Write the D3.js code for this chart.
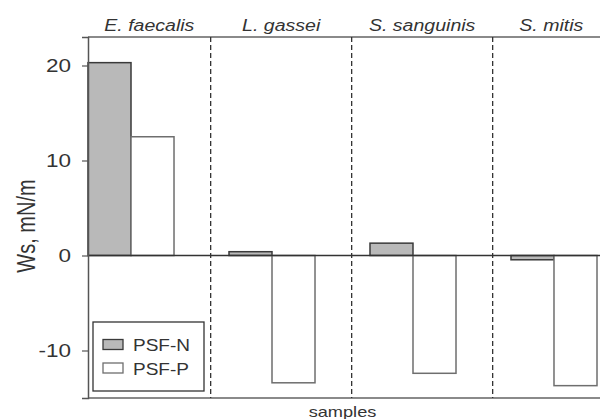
<!DOCTYPE html>
<html>
<head>
<meta charset="utf-8">
<script src="https://cdn.jsdelivr.net/npm/d3@7"></script>
<style>
  body { margin: 0; background: #fff; }
  svg text { font-family: "Liberation Sans", Arial, sans-serif; fill: #333; }
</style>
</head>
<body>
<svg id="chart" width="600" height="419"></svg>
<script>
// data
var groups = ["E. faecalis", "L. gassei", "S. sanguinis", "S. mitis"];
var series = ["PSF-N", "PSF-P"];
var psfN = [20.3, 0.4, 1.3, -0.45];
var psfP = [12.5, -13.4, -12.4, -13.7];
var yTicks = [-10, 0, 10, 20];

var margin = {left: 88, top: 37, right: 610, bottom: 398};
var svg = d3.select("#chart");

var x = d3.scaleBand().domain(groups).range([88, 597]).paddingInner(0.39).paddingOuter(0).align(0);
var xs = d3.scaleBand().domain(series).range([0, x.bandwidth()]).padding(0);
var y = d3.scaleLinear().domain([-15, 23]).range([margin.bottom, margin.top]);
var color = {"PSF-N": "#b9b9b9", "PSF-P": "#ffffff"};
var stroke = {"PSF-N": "#3a3a3a", "PSF-P": "#6e6e6e"};

var rows = [];
groups.forEach(function(g, i) {
    rows.push({g: g, s: "PSF-N", v: psfN[i]});
    rows.push({g: g, s: "PSF-P", v: psfP[i]});
});

// frame lines
svg.append("line").attr("x1", margin.left).attr("x2", margin.right).attr("y1", margin.top).attr("y2", margin.top)
    .attr("stroke", "#8a8a8a").attr("stroke-width", 2);
svg.append("line").attr("x1", margin.left).attr("x2", margin.right).attr("y1", margin.bottom).attr("y2", margin.bottom)
    .attr("stroke", "#8a8a8a").attr("stroke-width", 2);

// group dividers
var dividers = [];
for (var i = 1; i < groups.length; i++) dividers.push(x(groups[i]) - x.step() * 0.13);
svg.selectAll(".div").data(dividers).enter().append("line")
    .attr("x1", function(d) { return d; }).attr("x2", function(d) { return d; })
    .attr("y1", margin.top).attr("y2", margin.bottom)
    .attr("stroke", "#333").attr("stroke-width", 1.3).attr("stroke-dasharray", "5,3");

// bars
svg.selectAll(".bar").data(rows).enter().append("rect")
    .attr("x", function(d) { return x(d.g) + xs(d.s); })
    .attr("y", function(d) { return y(Math.max(0, d.v)); })
    .attr("width", xs.bandwidth())
    .attr("height", function(d) { return Math.abs(y(d.v) - y(0)); })
    .attr("fill", function(d) { return color[d.s]; })
    .attr("stroke", function(d) { return stroke[d.s]; })
    .attr("stroke-width", 1.5);

// zero line
svg.append("line").attr("x1", margin.left).attr("x2", margin.right).attr("y1", y(0)).attr("y2", y(0))
    .attr("stroke", "#333").attr("stroke-width", 1.5);

// y axis
var yAxis = d3.axisLeft(y).tickValues(yTicks).tickSize(6).tickFormat(function(d) { return String(d); });
var ga = svg.append("g").attr("transform", "translate(" + margin.left + ",0)").call(yAxis);
ga.select(".domain").attr("stroke", "#555").attr("stroke-width", 1.5);
ga.selectAll(".tick line").attr("stroke", "#555").attr("stroke-width", 1.2);
ga.selectAll(".tick text").attr("x", null).attr("dy", "0.35em")
    .attr("transform", "translate(-17,0) scale(1.25,1)")
    .style("font-size", "18px").attr("fill", "#333")
    .style("font-family", "Liberation Sans, Arial, sans-serif");

// group labels
var edges = [margin.left].concat(dividers).concat([margin.right]);
svg.selectAll(".glab").data(groups).enter().append("text")
    .attr("transform", function(d, i) { return "translate(" + ((edges[i] + edges[i + 1]) / 2) + ",31) scale(1.15,1)"; })
    .attr("text-anchor", "middle").style("font-size", "17px").style("font-style", "italic")
    .text(function(d) { return d; });

// axis titles
svg.append("text").attr("transform", "translate(35,226) rotate(-90) scale(1,1.25)")
    .attr("text-anchor", "middle").style("font-size", "20px").text("Ws, mN/m");
var xr = x.range();
svg.append("text").attr("transform", "translate(" + ((xr[0] + xr[1]) / 2) + ",417) scale(1.3,1)")
    .attr("text-anchor", "middle").style("font-size", "14px").text("samples");

// legend
var lg = svg.append("g");
lg.append("rect").attr("x", 93).attr("y", 322).attr("width", 111).attr("height", 69)
    .attr("fill", "#fff").attr("stroke", "#333").attr("stroke-width", 1.3);
series.forEach(function(s, i) {
    lg.append("rect").attr("x", 103).attr("y", 339.5 + i * 23.5).attr("width", 20).attr("height", 10)
        .attr("fill", color[s]).attr("stroke", stroke[s]).attr("stroke-width", 1.3);
    lg.append("text").attr("transform", "translate(133," + (350.5 + i * 24) + ") scale(1.12,1)")
        .style("font-size", "17px").text(s);
});
</script>
</body>
</html>
